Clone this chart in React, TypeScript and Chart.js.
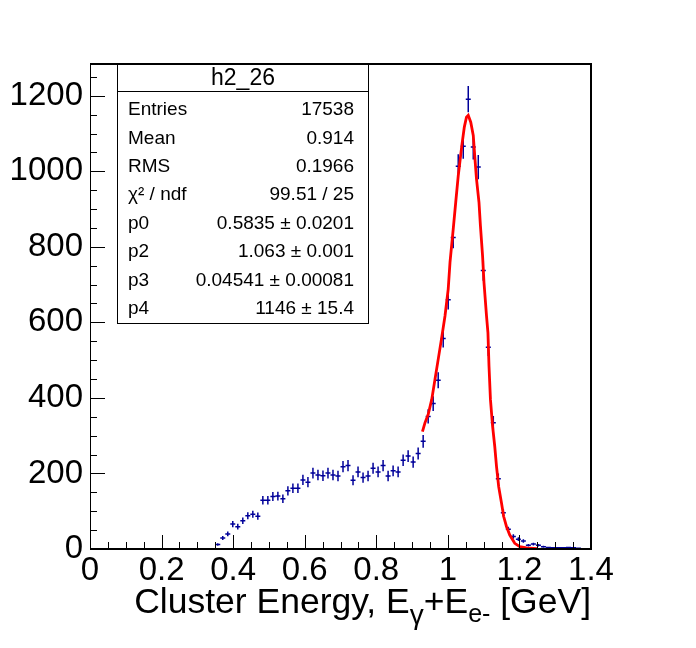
import { useEffect, useRef } from "react";
import { Chart, registerables, Plugin } from "chart.js";

Chart.register(...registerables);

const FONT = "'Liberation Sans', Arial, Helvetica, sans-serif";
const MARKER_COLOR = "#000099";
const FIT_COLOR = "#ff0000";

// histogram: 100 bins on 0..1.4, first filled bin is #25
const BIN_WIDTH = 0.014;
const FIRST_BIN = 25;
const COUNTS = [
    12, 29, 40, 66, 59, 75, 88, 92, 87, 129,
    129, 139, 140, 133, 154, 161, 161, 183, 177, 201,
    196, 194, 201, 196, 193, 218, 221, 182, 204, 189,
    193, 214, 204, 221, 193, 207, 204, 235, 246, 230,
    253, 285, 351, 385, 447, 557, 660, 825, 1013, 1066,
    1191, 1064, 1011, 737, 534, 334, 186, 96, 52, 33,
    26, 21, 10, 13, 10, 6, 4, 3, 3, 3,
    4, 3, 2,
];

// fitted curve
const FIT_X = [
    0.929, 0.936, 0.945, 0.955, 0.964, 0.973, 0.982, 0.992, 1.001, 1.006,
    1.015, 1.022, 1.029, 1.039, 1.046, 1.052, 1.057, 1.064, 1.071, 1.075,
    1.080, 1.087, 1.091, 1.097, 1.101, 1.108, 1.112, 1.115, 1.119, 1.125,
    1.131, 1.136, 1.142, 1.150, 1.156, 1.164, 1.173, 1.187, 1.201, 1.220, 1.249,
];
const FIT_Y = [
    311, 334, 356, 396, 449, 502, 555, 617, 688, 759,
    847, 918, 988, 1068, 1117, 1143, 1148, 1130, 1095, 1042,
    980, 918, 856, 776, 705, 617, 573, 484, 396, 325,
    272, 218, 165, 121, 86, 59, 37, 15, 6, 3, 1,
];

const STATS_TITLE = "h2_26";
const STATS_LABELS = ["Entries", "Mean", "RMS", "\u03c7\u00b2 / ndf", "p0", "p2", "p3", "p4"];
const STATS_VALUES = ["17538", "0.914", "0.1966", "99.51 / 25", "0.5835 \u00b1 0.0201", "1.063 \u00b1 0.001", "0.04541 \u00b1 0.00081", "1146 \u00b1 15.4"];

const X_MIN = 0;
const X_MAX = 1.4;
const Y_MAX = 1284;

const binCenter = (i: number) => (FIRST_BIN + i + 0.5) * BIN_WIDTH;

const rootPlugin: Plugin<"scatter"> = {
    id: "rootStyle",
    beforeDatasetsDraw(chart) {
        const { ctx, chartArea } = chart;
        const x = chart.scales.x;
        const y = chart.scales.y;
        ctx.save();
        ctx.beginPath();
        ctx.rect(chartArea.left, chartArea.top, chartArea.width, chartArea.height);
        ctx.clip();
        ctx.strokeStyle = MARKER_COLOR;
        ctx.lineWidth = 1.5;
        ctx.beginPath();
        COUNTS.forEach((n, i) => {
            const xc = binCenter(i);
            const px = x.getPixelForValue(xc);
            const py = y.getPixelForValue(n);
            const err = Math.sqrt(n);
            ctx.moveTo(x.getPixelForValue(xc - BIN_WIDTH / 2), py);
            ctx.lineTo(x.getPixelForValue(xc + BIN_WIDTH / 2), py);
            ctx.moveTo(px, y.getPixelForValue(n + err));
            ctx.lineTo(px, y.getPixelForValue(Math.max(n - err, 0)));
        });
        ctx.stroke();
        ctx.restore();
    },
    afterDraw(chart) {
        const { ctx, chartArea } = chart;
        const x = chart.scales.x;
        const y = chart.scales.y;
        const { left, right, top, bottom } = chartArea;
        ctx.save();

        // ticks pointing inwards
        ctx.strokeStyle = "#000";
        ctx.lineWidth = 1;
        ctx.beginPath();
        for (let i = 0; i <= 28; i++) {
            const px = Math.round(x.getPixelForValue(i * 0.05)) + 0.5;
            ctx.moveTo(px, bottom);
            ctx.lineTo(px, bottom - (i % 4 === 0 ? 14 : 7));
        }
        for (let i = 0; i <= 25; i++) {
            const py = Math.round(y.getPixelForValue(i * 50)) + 0.5;
            ctx.moveTo(left, py);
            ctx.lineTo(left + (i % 4 === 0 ? 15 : 7), py);
        }
        ctx.stroke();

        // frame
        ctx.lineWidth = 2;
        ctx.beginPath();
        ctx.moveTo(left, top);
        ctx.lineTo(right, top);
        ctx.lineTo(right, bottom);
        ctx.lineTo(left, bottom);
        ctx.stroke();
        ctx.lineWidth = 1;
        ctx.beginPath();
        ctx.moveTo(left + 0.5, top);
        ctx.lineTo(left + 0.5, bottom);
        ctx.stroke();

        // stats box
        const bx = 117.5, by = 64.5, bw = 251, bh = 259;
        ctx.fillStyle = "#fff";
        ctx.fillRect(bx, by, bw, bh);
        ctx.strokeRect(bx, by, bw, bh);
        ctx.beginPath();
        ctx.moveTo(bx, 91.5);
        ctx.lineTo(bx + bw, 91.5);
        ctx.stroke();
        ctx.fillStyle = "#000";
        ctx.textBaseline = "middle";
        ctx.font = `23px ${FONT}`;
        ctx.textAlign = "center";
        ctx.fillText(STATS_TITLE, bx + bw / 2, 79);
        ctx.font = `19px ${FONT}`;
        STATS_LABELS.forEach((label, i) => {
            const cy = 110 + i * 28.4;
            ctx.textAlign = "left";
            ctx.fillText(label, 128, cy);
            ctx.textAlign = "right";
            ctx.fillText(STATS_VALUES[i], 354, cy);
        });

        // x axis title with subscripts
        const parts = [
            { t: "Cluster Energy, E", size: 35.5, dy: 0 },
            { t: "\u03b3", size: 28, dy: 11 },
            { t: "+E", size: 35.5, dy: 0 },
            { t: "e-", size: 25, dy: 9 },
            { t: " [GeV]", size: 35.5, dy: 0 },
        ];
        let total = 0;
        const widths = parts.map((p) => {
            ctx.font = `${p.size}px ${FONT}`;
            const w = ctx.measureText(p.t).width;
            total += w;
            return w;
        });
        let tx = right - total;
        ctx.textAlign = "left";
        ctx.textBaseline = "alphabetic";
        parts.forEach((p, i) => {
            ctx.font = `${p.size}px ${FONT}`;
            ctx.fillText(p.t, tx, 613 + p.dy);
            tx += widths[i];
        });
        ctx.restore();
    },
};

export default function App() {
    const canvasRef = useRef<HTMLCanvasElement>(null);
    const chartRef = useRef<Chart | null>(null);

    useEffect(() => {
        if (!canvasRef.current) return;
        if (chartRef.current) chartRef.current.destroy();

        const histPoints = COUNTS.map((n, i) => ({ x: binCenter(i), y: n }));
        const fitPoints = FIT_X.map((xv, i) => ({ x: xv, y: FIT_Y[i] }));

        chartRef.current = new Chart(canvasRef.current, {
            type: "scatter",
            data: {
                datasets: [
                    {
                        label: STATS_TITLE,
                        data: histPoints,
                        pointRadius: 0,
                        showLine: false,
                        borderColor: MARKER_COLOR,
                        backgroundColor: MARKER_COLOR,
                    },
                    {
                        label: "fit",
                        data: fitPoints,
                        showLine: true,
                        pointRadius: 0,
                        borderColor: FIT_COLOR,
                        borderWidth: 2.8,
                        tension: 0,
                    },
                ],
            },
            options: {
                responsive: false,
                animation: false,
                events: [],
                layout: { padding: { left: 0, top: 64, right: 105, bottom: 0 } },
                plugins: {
                    legend: { display: false },
                    tooltip: { enabled: false },
                },
                scales: {
                    x: {
                        type: "linear",
                        min: X_MIN,
                        max: X_MAX,
                        grid: { display: false, drawTicks: false },
                        border: { display: false },
                        afterFit: (scale) => { scale.height = 99; },
                        ticks: {
                            stepSize: 0.2,
                            autoSkip: false,
                            maxRotation: 0,
                            includeBounds: false,
                            padding: 2,
                            color: "#000",
                            font: { family: FONT, size: 33 },
                            callback: (v) => String(Math.round(Number(v) * 10) / 10),
                        },
                    },
                    y: {
                        type: "linear",
                        min: 0,
                        max: Y_MAX,
                        grid: { display: false, drawTicks: false },
                        border: { display: false },
                        afterFit: (scale) => { scale.width = 90; },
                        ticks: {
                            stepSize: 200,
                            autoSkip: false,
                            includeBounds: false,
                            padding: 7,
                            color: "#000",
                            font: { family: FONT, size: 33 },
                            callback: (v) => String(v),
                        },
                    },
                },
            },
            plugins: [rootPlugin],
        });

        return () => {
            if (chartRef.current) {
                chartRef.current.destroy();
                chartRef.current = null;
            }
        };
    }, []);

    return (
        <div style={{ position: "fixed", left: 0, top: 0, width: 696, height: 648, background: "#fff" }}>
            <canvas ref={canvasRef} width={696} height={648} style={{ width: 696, height: 648 }} />
        </div>
    );
}
